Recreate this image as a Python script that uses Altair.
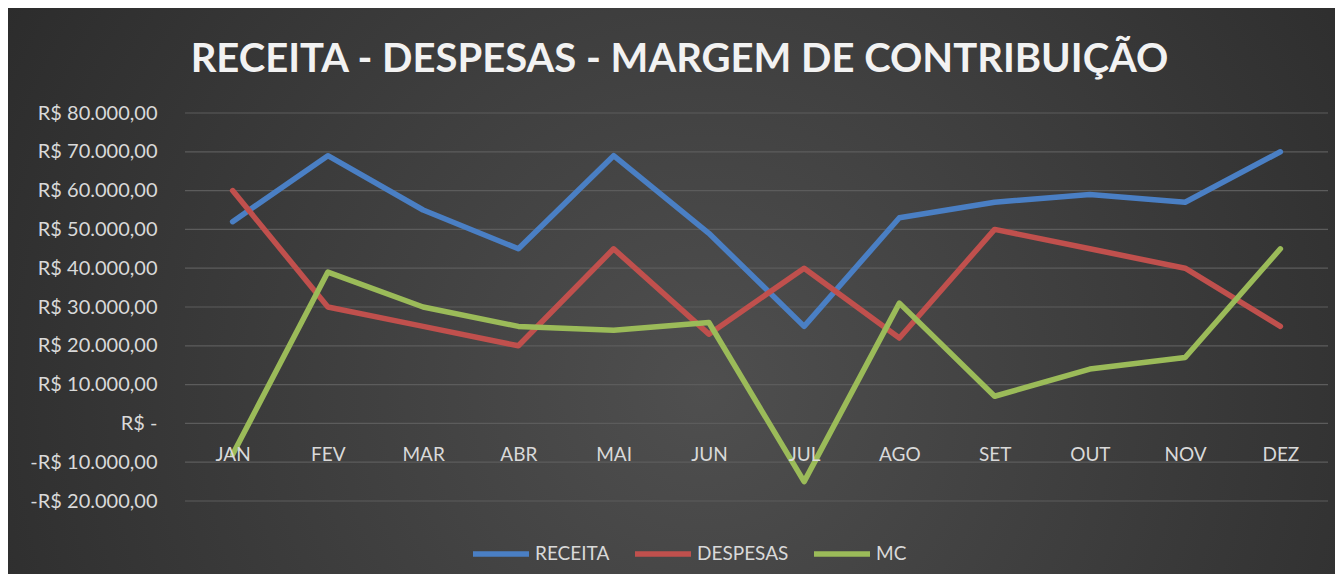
import altair as alt
import pandas as pd

titulo = "RECEITA - DESPESAS - MARGEM DE CONTRIBUIÇÃO"
meses = ["JAN", "FEV", "MAR", "ABR", "MAI", "JUN", "JUL", "AGO", "SET", "OUT", "NOV", "DEZ"]
receita = [52000, 69000, 55000, 45000, 69000, 49000, 25000, 53000, 57000, 59000, 57000, 70000]
despesas = [60000, 30000, 25000, 20000, 45000, 23000, 40000, 22000, 50000, 45000, 40000, 25000]
mc = [-8000, 39000, 30000, 25000, 24000, 26000, -15000, 31000, 7000, 14000, 17000, 45000]
series = ["RECEITA", "DESPESAS", "MC"]
cores = ["#4a7fc4", "#c0504d", "#9bbb59"]
y_ticks = [-20000, -10000, 0, 10000, 20000, 30000, 40000, 50000, 60000, 70000, 80000]
y_dom = [-20000, 80000]

W, H = 1143, 388
PAD = {"left": 177, "top": 105, "right": 7, "bottom": 73}
FONT = "Lato"
TXT = "#d9d9d9"

rows = []
for s, vals in zip(series, [receita, despesas, mc]):
    for m, v in zip(meses, vals):
        rows.append({"mes": m, "serie": s, "valor": v})
df = pd.DataFrame(rows)
grid_df = pd.DataFrame({"valor": y_ticks})

label_expr = (
    "datum.value == 0 ? 'R$ -' : (datum.value < 0 ? '-' : '') + 'R$ ' + "
    "replace(replace(replace(format(abs(datum.value), ',.2f'), ',', '#'), '.', ','), '#', '.')"
)

gradiente = {
    "gradient": "radial",
    "x1": 0.52, "y1": 0.57, "r1": 0,
    "x2": 0.52, "y2": 0.57, "r2": 0.75,
    "stops": [
        {"offset": 0, "color": "#4f4f4f"},
        {"offset": 1, "color": "#232323"},
    ],
}

fundo = alt.Chart(pd.DataFrame({"k": [0]})).mark_rect(color=gradiente).encode(
    x=alt.value(-PAD["left"]),
    x2=alt.value(W + PAD["right"] + 10),
    y=alt.value(-PAD["top"]),
    y2=alt.value(H + PAD["bottom"] + 10),
)

yscale = alt.Scale(domain=y_dom, nice=False)
yaxis = alt.Axis(
    title=None, values=y_ticks, labelExpr=label_expr, domain=False,
    ticks=False, grid=False, labelFont=FONT, labelFontSize=20,
    labelColor=TXT, labelPadding=28, zindex=1,
)

grade = alt.Chart(grid_df).mark_rule(color="#5c5c5c", strokeWidth=1.2).encode(
    y=alt.Y("valor:Q", scale=yscale, axis=yaxis)
)

zero_off = H * (0 - y_dom[0]) / (y_dom[1] - y_dom[0])

linhas = alt.Chart(df).mark_line(strokeWidth=5.5, strokeCap="round", strokeJoin="round").encode(
    x=alt.X(
        "mes:N",
        sort=meses,
        scale=alt.Scale(type="point", padding=0.5),
        axis=alt.Axis(
            title=None, labelAngle=0, domain=False, ticks=False, grid=False,
            labelFont=FONT, labelFontSize=19, labelColor=TXT,
            labelPadding=22, offset=-zero_off, zindex=1,
        ),
    ),
    y=alt.Y("valor:Q", scale=yscale, axis=yaxis),
    color=alt.Color(
        "serie:N",
        sort=series,
        scale=alt.Scale(domain=series, range=cores),
        legend=alt.Legend(
            title=None, orient="none", legendX=285, legendY=410,
            direction="horizontal", symbolType="stroke", symbolSize=3136,
            symbolStrokeWidth=5.5, labelFont=FONT, labelFontSize=19,
            labelColor=TXT, columnPadding=14, labelOffset=3, zindex=1,
        ),
    ),
    detail="serie:N",
)

chart = alt.layer(fundo, grade, linhas).properties(
    width=W,
    height=H,
    autosize=alt.AutoSizeParams(type="none"),
    padding=PAD,
    title=alt.TitleParams(
        text=titulo, font=FONT, fontSize=40, fontWeight="bold", color="#f2f2f2",
        anchor="middle", frame="group", offset=-72, dx=-77, zindex=1,
    ),
).configure(background="#2a2a2a").configure_view(stroke=None)

chart.save("out.html", embed_options={"renderer": "svg", "actions": False})
